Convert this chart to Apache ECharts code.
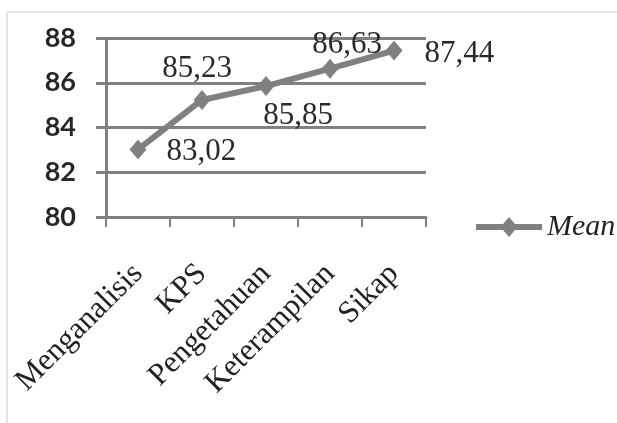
<!DOCTYPE html>
<html>
<head>
<meta charset="utf-8">
<script src="https://cdn.jsdelivr.net/npm/echarts@6/dist/echarts.min.js"></script>
<style>
  html, body { margin: 0; padding: 0; background: #fff; }
  #chart { width: 617px; height: 423px; }
</style>
</head>
<body>
<div id="chart"></div>
<script>
// Mean score per aspect
const categories = ['Menganalisis', 'KPS', 'Pengetahuan', 'Keterampilan', 'Sikap'];
const meanValues = [83.02, 85.23, 85.85, 86.63, 87.44];
const yTicks = { min: 80, max: 88, step: 2 };
const seriesName = 'Mean';

// where each value label sits relative to its point
const labelPlacement = [
  { position: 'right', distance: 20, offset: [0, 2] },
  { position: 'top', distance: 10, offset: [-5, 4] },
  { position: 'bottom', distance: 8, offset: [32, -4] },
  { position: 'top', distance: 3, offset: [17, 5] },
  { position: 'right', distance: 22, offset: [0, 3] }
];

const grey = '#808080';
const serif = '"Liberation Serif", "Times New Roman", serif';

// legend key: thick line with a diamond in the middle
const legendIcon = 'path://M0,7 L66,7 L66,13 L0,13 Z M24.5,10 L33,0 L41.5,10 L33,20 Z';

const chart = echarts.init(document.getElementById('chart'), null, { renderer: 'canvas' });

const seriesData = meanValues.map((v, i) => ({
  value: v,
  label: Object.assign({}, labelPlacement[i])
}));

chart.setOption({
  animation: false,
  backgroundColor: '#ffffff',
  graphic: [
    { type: 'line', shape: { x1: 7, y1: 12, x2: 617, y2: 12 }, style: { stroke: '#e4e4e4', lineWidth: 2 } },
    { type: 'line', shape: { x1: 7, y1: 12, x2: 7, y2: 423 }, style: { stroke: '#e4e4e4', lineWidth: 2 } }
  ],
  grid: { left: 106, right: 191, top: 38, bottom: 206, containLabel: false },
  legend: {
    left: 471,
    top: 207,
    itemWidth: 66,
    itemHeight: 20,
    itemGap: 6,
    data: [{ name: seriesName, icon: legendIcon }],
    itemStyle: { color: grey },
    textStyle: { fontFamily: serif, fontStyle: 'italic', fontSize: 30, color: '#222' }
  },
  xAxis: {
    type: 'category',
    data: categories,
    boundaryGap: true,
    axisLine: { lineStyle: { color: grey, width: 3 } },
    axisTick: { show: true, length: 10, lineStyle: { color: grey, width: 2 } },
    axisLabel: {
      rotate: 45,
      margin: 52,
      interval: 0,
      fontFamily: serif,
      fontSize: 31,
      color: '#222'
    },
    splitLine: { show: false }
  },
  yAxis: {
    type: 'value',
    min: yTicks.min,
    max: yTicks.max,
    interval: yTicks.step,
    axisLine: { show: true, lineStyle: { color: grey, width: 3 } },
    axisTick: { show: true, length: 10, lineStyle: { color: grey, width: 3 } },
    axisLabel: {
      margin: 30,
      fontFamily: 'Lato, "Open Sans", sans-serif',
      fontSize: 27,
      fontWeight: 'bold',
      color: '#262626'
    },
    splitLine: { show: true, lineStyle: { color: grey, width: 3 } }
  },
  series: [{
    name: seriesName,
    type: 'line',
    data: seriesData,
    symbol: 'diamond',
    symbolSize: [17, 20],
    lineStyle: { color: grey, width: 6 },
    itemStyle: { color: grey },
    label: {
      show: true,
      fontFamily: serif,
      fontSize: 31,
      color: '#2a2a2a',
      formatter: p => p.value.toFixed(2).replace('.', ',')
    }
  }]
});
</script>
</body>
</html>
